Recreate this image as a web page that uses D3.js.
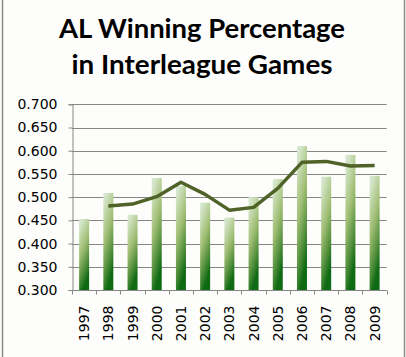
<!DOCTYPE html>
<html><head><meta charset="utf-8">
<script src="https://cdn.jsdelivr.net/npm/d3@7"></script>
<style>html,body{margin:0;padding:0;background:#fdfdfb;}svg{display:block;}</style>
</head><body>
<svg id="c" width="406" height="357"></svg>
<script>
const years = ["1997","1998","1999","2000","2001","2002","2003","2004","2005","2006","2007","2008","2009"];
const winPct = [0.453,0.509,0.462,0.541,0.524,0.488,0.456,0.500,0.539,0.610,0.544,0.591,0.546];
const lineYears = ["1998","1999","2000","2001","2002","2003","2004","2005","2006","2007","2008","2009"];
const movingAvg = [0.481,0.485,0.501,0.532,0.506,0.472,0.478,0.519,0.575,0.577,0.567,0.568];
const yTicks = [0.300,0.350,0.400,0.450,0.500,0.550,0.600,0.650,0.700];
const titleLines = ["AL Winning Percentage","in Interleague Games"];

const svg = d3.select("#c");
const L = 72, R = 386.7, T = 104.3, B = 290;

// frame
svg.append("rect").attr("width",406).attr("height",357).attr("fill","#fdfdfb");
[2.5,404.5].forEach(x=>svg.append("line").attr("x1",x).attr("x2",x).attr("y1",0).attr("y2",357)
  .attr("stroke","#8a8a8a").attr("stroke-width",1.5));

// title
svg.append("g").selectAll("text").data(titleLines).join("text")
  .attr("x",202).attr("y",(d,i)=>38+i*36).attr("text-anchor","middle")
  .attr("font-family","Lato, 'Open Sans', sans-serif").attr("font-weight","bold")
  .attr("font-size",27).attr("fill","#000").text(d=>d)
  .each(function(d,i){ d3.select(this).attr("textLength", i===0?286:261).attr("lengthAdjust","spacingAndGlyphs"); });

const x = d3.scaleBand().domain(years).range([L,R]).padding(0);
const y = d3.scaleLinear().domain([0.3,0.7]).range([B,T]);

// gridlines
svg.append("g").selectAll("line").data(yTicks.slice(1)).join("line")
  .attr("x1",L).attr("x2",R).attr("y1",d=>Math.round(y(d))+0.5).attr("y2",d=>Math.round(y(d))+0.5)
  .attr("stroke","#868686").attr("stroke-width",1);

// gradient
const defs = svg.append("defs");
const g = defs.append("linearGradient").attr("id","bg").attr("x1",0).attr("y1",0).attr("x2",0.35).attr("y2",1);
[[0,"#dceada"],[0.15,"#cfe2c0"],[0.5,"#9fbd72"],[0.8,"#4e8d3a"],[1,"#0f6a14"]].forEach(s=>
  g.append("stop").attr("offset",s[0]).attr("stop-color",s[1]));

const bw = 10;
svg.append("g").selectAll("rect").data(winPct).join("rect")
  .attr("x",(d,i)=>x(years[i])+x.bandwidth()/2-bw/2).attr("width",bw)
  .attr("y",d=>y(d)).attr("height",d=>B-y(d)).attr("fill","url(#bg)");

// line
const line = d3.line().x((d,i)=>x(lineYears[i])+x.bandwidth()/2).y(d=>y(d));
svg.append("path").datum(movingAvg).attr("d",line).attr("fill","none")
  .attr("stroke","#4f6228").attr("stroke-width",3.5).attr("stroke-linejoin","round");

// y axis
const ya = svg.append("g").attr("transform",`translate(${L+0.5},0)`)
  .call(d3.axisLeft(y).tickValues(yTicks).tickFormat(d3.format(".3f")).tickSize(4).tickPadding(11));
ya.select(".domain").attr("stroke","#868686");
ya.selectAll(".tick line").attr("stroke","#868686");
ya.selectAll("text").attr("font-family","'DejaVu Sans', Verdana, sans-serif").attr("font-size",14).attr("fill","#000");

// x axis
const xa = svg.append("g").attr("transform",`translate(0,${B+0.5})`)
  .call(d3.axisBottom(x).tickSize(0).tickFormat(""));
xa.select(".domain").attr("stroke","#868686").attr("d",`M${L},0H${R}`);
const edges = years.map(d=>x(d)).concat([R]);
xa.append("g").selectAll("line").data(edges).join("line")
  .attr("x1",d=>Math.round(d)+0.5).attr("x2",d=>Math.round(d)+0.5).attr("y1",0).attr("y2",4).attr("stroke","#868686");
xa.append("g").selectAll("text").data(years).join("text")
  .attr("transform",d=>`translate(${x(d)+x.bandwidth()/2+5},15) rotate(-90)`)
  .attr("text-anchor","end").attr("font-family","'DejaVu Sans', Verdana, sans-serif")
  .attr("font-size",14).attr("fill","#000").text(d=>d);
</script>
</body></html>
